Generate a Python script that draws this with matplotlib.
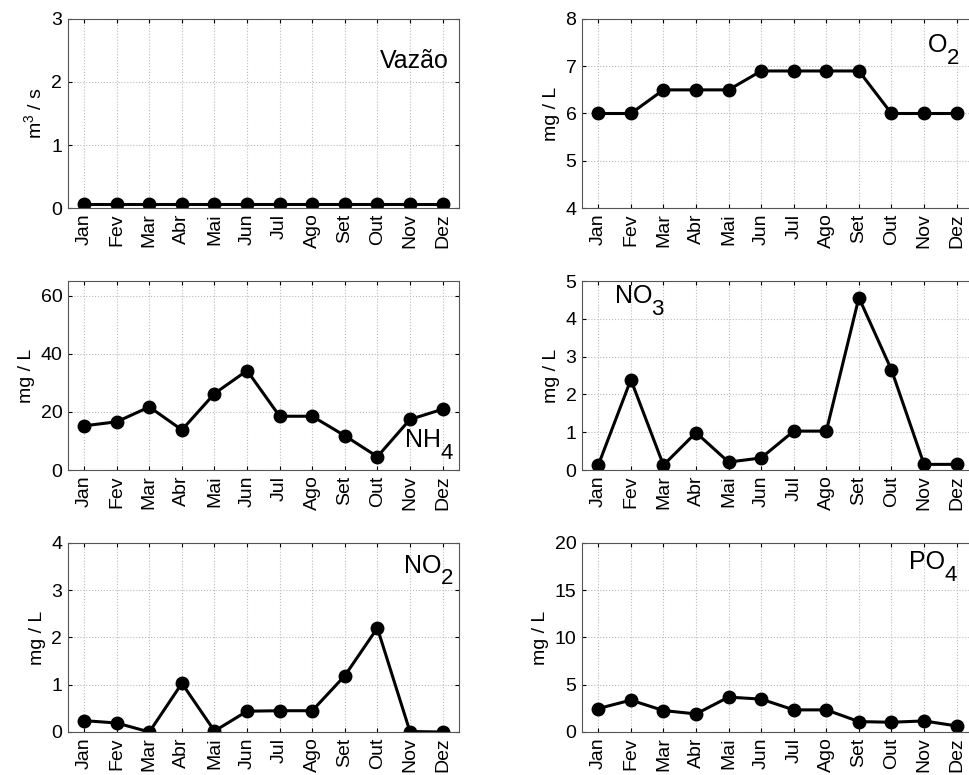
import matplotlib
matplotlib.use("Agg")
import matplotlib.pyplot as plt
import numpy as np

plt.rcParams['font.family'] = ['Liberation Sans', 'DejaVu Sans']
plt.rcParams['mathtext.fontset'] = 'custom'
plt.rcParams['mathtext.rm'] = 'Liberation Sans'

months = ["Jan", "Fev", "Mar", "Abr", "Mai", "Jun", "Jul", "Ago", "Set", "Out", "Nov", "Dez"]

vazao = [0.06] * 12
o2 = [6.0, 6.0, 6.5, 6.5, 6.5, 6.9, 6.9, 6.9, 6.9, 6.0, 6.0, 6.0]
nh4 = [15.2, 16.6, 21.7, 13.8, 26.3, 34.2, 18.5, 18.5, 11.8, 4.6, 17.4, 20.9]
no3 = [0.13, 2.39, 0.13, 0.99, 0.21, 0.32, 1.03, 1.03, 4.56, 2.65, 0.15, 0.15]
no2 = [0.24, 0.19, 0.0, 1.03, 0.02, 0.44, 0.45, 0.45, 1.19, 2.2, 0.01, 0.0]
po4 = [2.48, 3.37, 2.27, 1.91, 3.69, 3.48, 2.34, 2.34, 1.1, 1.03, 1.17, 0.64]

# panel: data, ylabel, ylim, yticks, name, subscript, name position (right or left edge), alignment
panels = [
    (vazao, "m$^3$ / s", (0, 3), [0, 1, 2, 3], "Vazão", "", (0.975, 0.78), 'right'),
    (o2, "mg / L", (4, 8), [4, 5, 6, 7, 8], "O", "2", (0.965, 0.86), 'right'),
    (nh4, "mg / L", (0, 65), [0, 20, 40, 60], "NH", "4", (0.985, 0.16), 'right'),
    (no3, "mg / L", (0, 5), [0, 1, 2, 3, 4, 5], "NO", "3", (0.085, 0.92), 'left'),
    (no2, "mg / L", (0, 4), [0, 1, 2, 3, 4], "NO", "2", (0.985, 0.88), 'right'),
    (po4, "mg / L", (0, 20), [0, 5, 10, 15, 20], "PO", "4", (0.96, 0.90), 'right'),
]

fig = plt.figure(figsize=(9.7, 7.75), dpi=100)
lefts = [0.070, 0.600]
bottoms = [0.7316, 0.3935, 0.0555]
w, h = 0.403, 0.2439

x = np.arange(1, 13)
for i, (vals, ylab, ylim, yt, name, sub, pos, ha) in enumerate(panels):
    ax = fig.add_axes([lefts[i % 2], bottoms[i // 2], w, h])
    ax.plot(x, vals, 'k-', marker='o', ms=9, lw=2.2)
    ax.set_xlim(0.5, 12.5)
    ax.set_ylim(*ylim)
    ax.set_yticks(yt)
    ax.set_xticks(x)
    ax.set_xticklabels(months, rotation=90)
    ax.set_ylabel(ylab, fontsize=14)
    ax.tick_params(direction='in', top=True, right=True, labelsize=14, length=3, pad=4)
    ax.grid(True, ls=':', color='#bbbbbb', lw=0.8)
    for s in ax.spines.values():
        s.set_color('#555555')
    if not sub:
        ax.text(pos[0], pos[1], name, transform=ax.transAxes, ha=ha, va='center', fontsize=18)
    elif ha == 'right':
        ax.annotate(sub, pos, xycoords='axes fraction', ha='right', va='top',
                    xytext=(0, -2), textcoords='offset points', fontsize=16)
        ax.annotate(name, pos, xycoords='axes fraction', ha='right', va='center',
                    xytext=(-8.5, 0), textcoords='offset points', fontsize=18)
    else:
        t = ax.annotate(name, pos, xycoords='axes fraction', ha='left', va='center', fontsize=18)
        fig.canvas.draw()
        bb = t.get_window_extent()
        ax.annotate(sub, (bb.x1, bb.y0 + bb.height / 2), xycoords='figure pixels',
                    ha='left', va='top', xytext=(-1.5, -2), textcoords='offset points', fontsize=16)

fig.savefig("out.png", dpi=100)
